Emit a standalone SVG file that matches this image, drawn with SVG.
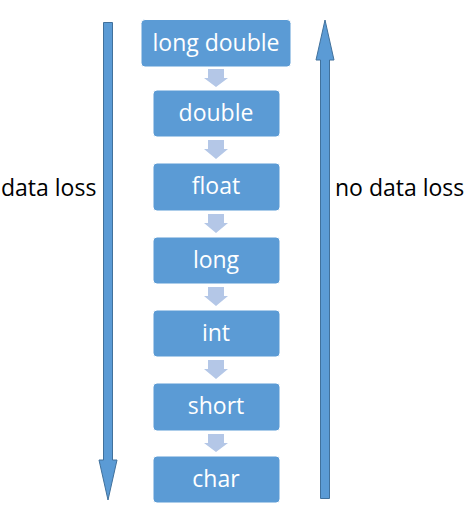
<svg xmlns="http://www.w3.org/2000/svg" width="466" height="513" viewBox="0 0 466 513">
<defs>
<style>
.box{fill:#5B9BD5;stroke:#FFFFFF;stroke-width:1}
.bt{fill:#FFFFFF;font-family:"Open Sans","Noto Sans",sans-serif;font-size:23px;text-anchor:middle}
.lbl{fill:#000000;font-family:"Open Sans","Noto Sans",sans-serif;font-size:23px}
.small{fill:#B4C7E7}
.big{fill:#5B9BD5;stroke:#41719C;stroke-width:1}
</style>
</defs>
<rect width="466" height="513" fill="#FFFFFF"/>
<g id="connectors">
<path class="big" d="M103.5,22.5 H112.5 V460 H117 L108,500 L99,460 H103.5 Z"/>
<path class="big" d="M320.5,498.5 H329.5 V60 H334 L325,20 L316,60 H320.5 Z"/>
<path class="small" d="M208,69 H224 V78 H228 L216,87 L204,78 H208 Z"/>
<path class="small" d="M208,140 H224 V149 H228 L216,159 L204,149 H208 Z"/>
<path class="small" d="M208,214 H224 V223 H228 L216,233 L204,223 H208 Z"/>
<path class="small" d="M208,287 H224 V296 H228 L216,306 L204,296 H208 Z"/>
<path class="small" d="M208,360 H224 V369 H228 L216,379 L204,369 H208 Z"/>
<path class="small" d="M208,434 H224 V443 H228 L216,452 L204,443 H208 Z"/>
</g>
<g id="n-longdouble"><rect class="box" x="141" y="19.5" width="150" height="47.5" rx="4"/><text class="bt" x="216" y="51">long double</text></g>
<g id="n-double"><rect class="box" x="153" y="90" width="127" height="47" rx="4"/><text class="bt" x="216" y="121">double</text></g>
<g id="n-float"><rect class="box" x="153" y="163" width="127" height="48" rx="4"/><text class="bt" x="216" y="194">float</text></g>
<g id="n-long"><rect class="box" x="153" y="237" width="127" height="47" rx="4"/><text class="bt" x="216" y="268">long</text></g>
<g id="n-int"><rect class="box" x="153" y="310" width="127" height="47" rx="4"/><text class="bt" x="216" y="341">int</text></g>
<g id="n-short"><rect class="box" x="153" y="383" width="127" height="48" rx="4"/><text class="bt" x="216" y="414">short</text></g>
<g id="n-char"><rect class="box" x="153" y="456" width="127" height="47" rx="4"/><text class="bt" x="216" y="487">char</text></g>
<g id="labels">
<text class="lbl" x="1" y="196">data loss</text>
<text class="lbl" x="335" y="196">no data loss</text>
</g>
</svg>
